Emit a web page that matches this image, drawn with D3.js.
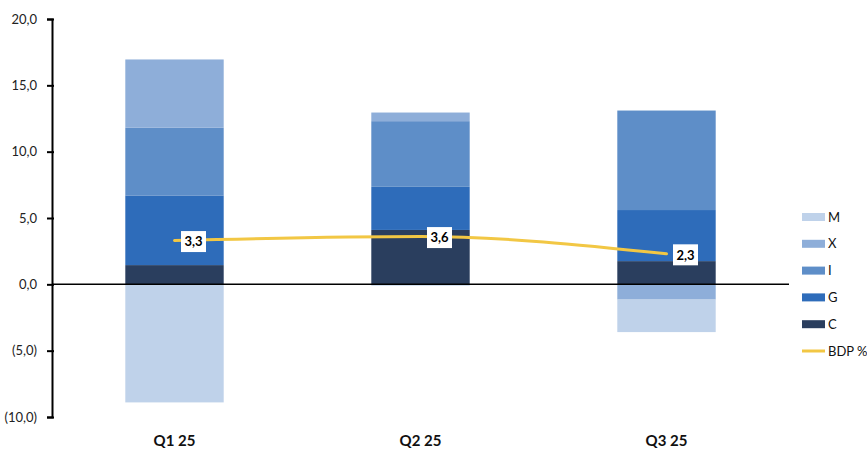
<!DOCTYPE html>
<html>
<head>
<meta charset="utf-8">
<script src="https://cdn.jsdelivr.net/npm/d3@7"></script>
<style>
  body { margin: 0; background: #fff; }
  text { font-family: Lato, "Open Sans", sans-serif; }
</style>
</head>
<body>
<div class="chart"></div>
<script>
// quarters and the GDP components (stacked), plus GDP growth line
var quarters = ["Q1 25", "Q2 25", "Q3 25"];
var seriesKeys = ["C", "G", "I", "X", "M"];
var valuesC = [1.45, 4.1, 1.75];
var valuesG = [5.25, 3.25, 3.85];
var valuesI = [5.1, 4.95, 7.5];
var valuesX = [5.15, 0.65, -1.15];
var valuesM = [-8.9, -0.1, -2.45];
var bdp = [3.3, 3.6, 2.3];
var yTicks = [-10, -5, 0, 5, 10, 15, 20];
var legendOrder = ["M", "X", "I", "G", "C"];

var colors = {
  C: "#2a3e5e",
  G: "#2e6cba",
  I: "#5e8ec8",
  X: "#8eaed9",
  M: "#bfd2ea"
};
var lineColor = "#f2c744";

var svgWidth = 867;
var svgHeight = 452;

var svg = d3.select(".chart")
  .append("svg")
  .attr("width", svgWidth)
  .attr("height", svgHeight);

// build rows for the stack
var rows = quarters.map(function(q, i) {
  return { q: q, C: valuesC[i], G: valuesG[i], I: valuesI[i], X: valuesX[i], M: valuesM[i] };
});

var stacked = d3.stack()
  .keys(seriesKeys)
  .offset(d3.stackOffsetDiverging)(rows);

var x = d3.scaleBand()
  .domain(quarters)
  .range([51.5, 789.5])
  .paddingInner(0.6)
  .paddingOuter(0.3);

var y = d3.scaleLinear()
  .domain([-10, 20])
  .range([417, 19]);

// bars
svg.append("g").selectAll("g")
  .data(stacked)
  .enter().append("g")
  .attr("fill", d => colors[d.key])
  .selectAll("rect")
  .data(d => d)
  .enter().append("rect")
  .attr("x", d => x(d.data.q))
  .attr("width", x.bandwidth())
  .attr("y", d => y(d[1]))
  .attr("height", d => y(d[0]) - y(d[1]));

// zero line
svg.append("line")
  .attr("x1", 52).attr("x2", 789)
  .attr("y1", y(0)).attr("y2", y(0))
  .attr("stroke", "#000")
  .attr("stroke-width", 1.5);

// y axis
var fmt = function(v) {
  var s = Math.abs(v).toFixed(1).replace(".", ",");
  return v < 0 ? "(" + s + ")" : s;
};
var yAxis = svg.append("g")
  .attr("transform", "translate(52,0)")
  .call(d3.axisLeft(y).tickValues(yTicks).tickFormat(fmt).tickSize(5).tickPadding(10));
yAxis.select(".domain").attr("stroke", "#000").attr("stroke-width", 2);
yAxis.selectAll(".tick line").attr("stroke", "#000").attr("stroke-width", 2).attr("x2", -5).attr("x1", 2);
yAxis.selectAll(".tick text")
  .attr("font-size", 13)
  .attr("fill", "#222")
  .style("font-family", "Lato, sans-serif");

// category labels
svg.append("g").selectAll("text")
  .data(quarters)
  .enter().append("text")
  .attr("x", d => x(d) + x.bandwidth() / 2)
  .attr("y", 446)
  .attr("text-anchor", "middle")
  .attr("font-size", 15)
  .attr("font-weight", "bold")
  .attr("fill", "#111")
  .text(d => d);

// BDP line
var line = d3.line()
  .x((d, i) => x(quarters[i]) + x.bandwidth() / 2)
  .y(d => y(d))
  .curve(d3.curveMonotoneX);

svg.append("path")
  .datum(bdp)
  .attr("d", line)
  .attr("fill", "none")
  .attr("stroke", lineColor)
  .attr("stroke-width", 3)
  .attr("stroke-linecap", "round");

// value labels
var labels = svg.append("g").selectAll("g")
  .data(bdp)
  .enter().append("g")
  .attr("transform", (d, i) => "translate(" + (x(quarters[i]) + x.bandwidth() / 2 + 19) + "," + (y(d) + 1) + ")");
labels.append("rect")
  .attr("x", -12.5).attr("y", -10.5)
  .attr("width", 25).attr("height", 21)
  .attr("fill", "#fff");
labels.append("text")
  .attr("text-anchor", "middle")
  .attr("dy", "0.36em")
  .attr("font-size", 13)
  .attr("font-weight", "bold")
  .attr("fill", "#000")
  .text(d => d.toFixed(1).replace(".", ","));

// legend
var legend = svg.append("g").attr("transform", "translate(802,217)");
var items = legendOrder.concat(["BDP %"]);
var li = legend.selectAll("g")
  .data(items)
  .enter().append("g")
  .attr("transform", (d, i) => "translate(0," + (i * 26.8) + ")");
li.filter(d => d !== "BDP %").append("rect")
  .attr("x", 0).attr("y", -4)
  .attr("width", 23).attr("height", 8)
  .attr("fill", d => colors[d]);
li.filter(d => d === "BDP %").append("line")
  .attr("x1", 0).attr("x2", 23)
  .attr("y1", 0).attr("y2", 0)
  .attr("stroke", lineColor)
  .attr("stroke-width", 3);
li.append("text")
  .attr("x", 26)
  .attr("dy", "0.36em")
  .attr("font-size", 13)
  .attr("fill", "#111")
  .text(d => d);
</script>
</body>
</html>
